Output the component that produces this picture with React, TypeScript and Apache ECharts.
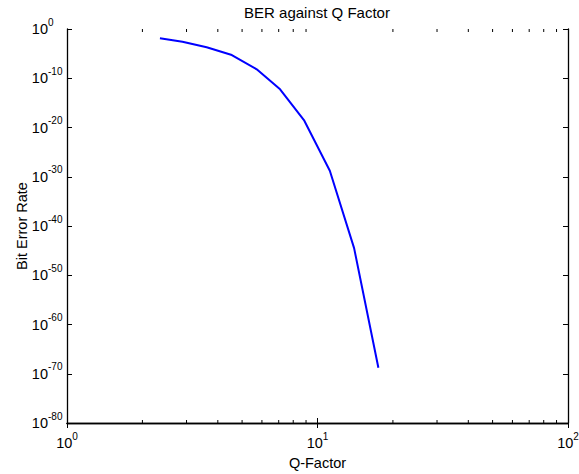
import React, { useEffect, useRef } from "react";
import * as echarts from "echarts";

const qFactor = [2.35, 2.89, 3.61, 4.55, 5.72, 7.09, 8.86, 11.2, 14.0, 17.5];
const ber = [1.3e-2, 2.6e-3, 1.9e-4, 5.2e-6, 6.6e-9, 5.8e-13, 2.4e-19, 1.7e-29, 3.2e-45, 1.7e-69];
const xMinorTicks = [2, 3, 4, 5, 6, 7, 8, 9, 20, 30, 40, 50, 60, 70, 80, 90];
const yTickLabels = [1, 1e-10, 1e-20, 1e-30, 1e-40, 1e-50, 1e-60, 1e-70, 1e-80];
const X_MIN = 1;
const X_MAX = 100;
const Y_MIN = 1e-80;
const Y_MAX = 1;

const FONT = "Liberation Sans, Arial, Helvetica, sans-serif";
const SUP_SLOT = 15;

let measureCtx: CanvasRenderingContext2D | null = null;
const supWidth = (s: string) => {
  if (!measureCtx) {
    const c = document.createElement("canvas");
    measureCtx = c.getContext("2d");
  }
  if (!measureCtx) return s.length * 5.5;
  measureCtx.font = `10px ${FONT}`;
  return measureCtx.measureText(s).width;
};

const expOf = (v: number) => Math.round(Math.log10(v));

const powLabelX = (v: number) => `{b|10}{s|${expOf(v)}}`;
const powLabelY = (v: number) => {
  const e = String(expOf(v));
  const pad = Math.max(0, SUP_SLOT - supWidth(e));
  return pad > 0.5 ? `{b|10}{s|${e}}{p|}` : `{b|10}{s|${e}}`;
};

const richX = {
  b: { fontSize: 14.5, fontFamily: FONT, color: "#000", lineHeight: 24, verticalAlign: "middle" },
  s: { fontSize: 10, fontFamily: FONT, color: "#000", lineHeight: 10, verticalAlign: "top" },
};

const makeRichY = (v: number) => {
  const e = String(expOf(v));
  const pad = Math.max(0, SUP_SLOT - supWidth(e));
  return {
    b: { fontSize: 14.5, fontFamily: FONT, color: "#000", lineHeight: 24, verticalAlign: "middle" },
    s: { fontSize: 10, fontFamily: FONT, color: "#000", lineHeight: 10, verticalAlign: "top" },
    p: { width: pad, lineHeight: 10, fontSize: 10 },
  };
};

export default function App() {
  const ref = useRef<HTMLDivElement>(null);
  useEffect(() => {
    document.body.style.margin = "0";
    if (!ref.current) return;
    const chart = echarts.init(ref.current, null, { renderer: "svg" });
    const axisLine = { show: true, lineStyle: { color: "#000", width: 1.3 } };
    const nameStyle = { fontSize: 14.5, color: "#000", fontFamily: FONT };
    const tickStyle = { show: true, inside: true, length: 5, lineStyle: { color: "#000" } };

    chart.setOption({
      animation: false,
      backgroundColor: "#fff",
      title: {
        text: "BER against Q Factor",
        left: 317,
        top: 5,
        textAlign: "center",
        padding: 0,
        textStyle: { fontSize: 15, fontWeight: "normal", color: "#000", fontFamily: FONT },
      },
      grid: { left: 67, right: 11, top: 29, bottom: 51, containLabel: false, outerBoundsMode: "none" },
      xAxis: [
        {
          type: "log",
          logBase: 10,
          min: X_MIN,
          max: X_MAX,
          position: "bottom",
          name: "Q-Factor",
          nameLocation: "middle",
          nameGap: 32,
          nameMoveOverlap: false,
          nameTextStyle: nameStyle,
          axisLine,
          axisTick: tickStyle,
          axisLabel: { formatter: powLabelX, rich: richX, fontSize: 14.5, margin: 8, showMinLabel: true, showMaxLabel: true, hideOverlap: false },
          splitLine: { show: false },
          minorTick: { show: false },
        },
        {
          type: "log",
          logBase: 10,
          min: X_MIN,
          max: X_MAX,
          position: "top",
          axisLine,
          axisTick: tickStyle,
          axisLabel: { show: false },
          splitLine: { show: false },
        },
      ],
      yAxis: [
        {
          type: "log",
          logBase: 10,
          min: Y_MIN,
          max: Y_MAX,
          splitNumber: 8,
          position: "left",
          name: "Bit Error Rate",
          nameLocation: "middle",
          nameRotate: 90,
          nameGap: 38,
          nameMoveOverlap: false,
          nameTextStyle: nameStyle,
          axisLine,
          axisTick: tickStyle,
          axisLabel: { show: false },
          splitLine: { show: false },
        },
        {
          type: "log",
          logBase: 10,
          min: Y_MIN,
          max: Y_MAX,
          splitNumber: 8,
          position: "right",
          axisLine,
          axisTick: tickStyle,
          axisLabel: { show: false },
          splitLine: { show: false },
        },
      ],
      series: [
        {
          type: "line",
          data: qFactor.map((q, i) => [q, ber[i]]),
          showSymbol: false,
          symbol: "none",
          lineStyle: { color: "#0000ff", width: 2 },
          itemStyle: { color: "#0000ff" },
          xAxisIndex: 0,
          yAxisIndex: 0,
        },
        {
          type: "custom",
          xAxisIndex: 0,
          yAxisIndex: 0,
          silent: true,
          clip: false,
          data: xMinorTicks.map((v) => [v, Y_MAX]),
          renderItem: (params: any, api: any) => {
            const x = api.value(0);
            const top = api.coord([x, Y_MAX]);
            const bot = api.coord([x, Y_MIN]);
            const style = { stroke: "#000", lineWidth: 1 };
            return {
              type: "group",
              children: [
                { type: "line", shape: { x1: top[0], y1: top[1], x2: top[0], y2: top[1] + 3 }, style },
                { type: "line", shape: { x1: bot[0], y1: bot[1], x2: bot[0], y2: bot[1] - 3 }, style },
              ],
            };
          },
        },
        {
          type: "custom",
          xAxisIndex: 0,
          yAxisIndex: 0,
          silent: true,
          clip: false,
          data: yTickLabels.map((v) => [X_MIN, v]),
          renderItem: (params: any, api: any) => {
            const v = api.value(1);
            const p = api.coord([api.value(0), v]);
            return {
              type: "text",
              x: p[0] - 4,
              y: p[1],
              style: {
                text: powLabelY(v),
                rich: makeRichY(v),
                align: "right",
                verticalAlign: "middle",
                fontSize: 14.5,
                fontFamily: FONT,
                fill: "#000",
              },
            };
          },
        },
      ],
    });
    return () => chart.dispose();
  }, []);
  return <div ref={ref} style={{ width: 579, height: 474 }} />;
}
